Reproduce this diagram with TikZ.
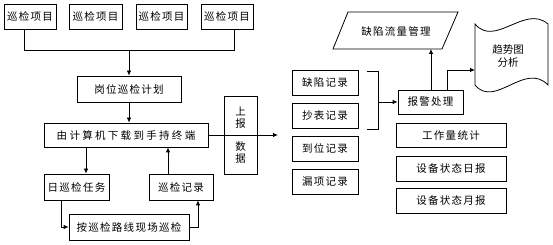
\documentclass[tikz,border=0pt]{standalone}
\usepackage{fontspec}
\newfontfamily\cjk[LetterSpace=12]{Noto Sans CJK SC}
\newfontfamily\cjkw[LetterSpace=22]{Noto Sans CJK SC}
\newfontfamily\cjkn{Noto Sans CJK SC}
\usetikzlibrary{arrows.meta}
\begin{document}
\begin{tikzpicture}[x=1pt,y=-1pt,
  box/.style={draw, line width=0.8pt, inner sep=0pt, font=\cjk\fontsize{10.5}{13}\selectfont},
  txt/.style={inner sep=0pt, align=center, font=\cjkn\fontsize{10.5}{12}\selectfont},
  ln/.style={line width=0.8pt},
  arr/.style={line width=0.8pt, -{Latex[length=5pt,width=4.5pt]}}]
\useasboundingbox (0,0) rectangle (553,245);

% top row
\node[box, minimum width=52pt, minimum height=25pt] (t1) at (30,16.5) {巡检项目};
\node[box, minimum width=53pt, minimum height=25pt] (t2) at (95.5,16.5) {巡检项目};
\node[box, minimum width=51pt, minimum height=25pt] (t3) at (161.5,16.5) {巡检项目};
\node[box, minimum width=52pt, minimum height=25pt] (t4) at (227,16.5) {巡检项目};

\node[box, minimum width=104pt, minimum height=26pt] (plan) at (129,89) {岗位巡检计划};
\node[box, minimum width=164pt, minimum height=24pt, font=\cjkw\fontsize{10.5}{13}\selectfont] (down) at (126,135) {由计算机下载到手持终端};
\node[box, minimum width=65pt, minimum height=26pt] (task) at (76.5,187) {日巡检任务};
\node[box, minimum width=64pt, minimum height=26pt] (rec) at (181,187) {巡检记录};
\node[box, minimum width=120pt, minimum height=26pt] (route) at (129,227) {按巡检路线现场巡检};

\coordinate (j1) at (24,50);
\coordinate (j4) at (234,50);
\coordinate (jm) at (129,50);
\draw[ln] (t1.south -| j1) -- (j1) -- (j4) -- (t4.south -| j4);
\draw[arr] (jm) -- (plan.north);
\draw[arr] (plan.south) -- (plan.south |- down.north);

\coordinate (c1) at (86,0);
\coordinate (c2) at (168,0);
\coordinate (c3) at (61,0);
\coordinate (c4) at (198,0);
\draw[arr] (down.south -| c1) -- (task.north -| c1);
\draw[arr] (rec.north -| c2) -- (down.south -| c2);
\draw[arr] (task.south -| c3) |- (route.west);
\draw[arr] (route.east) -| (rec.south -| c4);

% report box
\coordinate (out) at (278,135);
\node[draw, line width=0.8pt, minimum width=33pt, minimum height=78pt, inner sep=0pt] (rep) at (240.5,135) {};
\node[txt] (rep1) at (240.5,117.5) {上\\报};
\node[txt] (rep2) at (240.5,153) {数\\据};
\draw[arr] (down.east) -- (out);

% records
\node[box, minimum width=66pt, minimum height=25pt] (r1) at (325,82.5) {缺陷记录};
\node[box, minimum width=66pt, minimum height=25pt] (r2) at (325,115.5) {抄表记录};
\node[box, minimum width=66pt, minimum height=25pt] (r3) at (325,148.5) {到位记录};
\node[box, minimum width=66pt, minimum height=25pt] (r4) at (325,181.5) {漏项记录};

\coordinate (bt) at (367,71);
\coordinate (bb) at (367,129);
\coordinate (btr) at (378,71);
\coordinate (bbr) at (378,129);
\coordinate (bk) at (378,102);
\draw[ln] (bt) -- (btr) -- (bbr) -- (bb);

\node[box, minimum width=65pt, minimum height=24pt] (alarm) at (430.5,102) {报警处理};
\draw[arr] (bk) -- (alarm.west);

\node[box, minimum width=110pt, minimum height=24pt] (w1) at (451,135) {工作量统计};
\node[box, minimum width=110pt, minimum height=25pt] (w2) at (451,168.5) {设备状态日报};
\node[box, minimum width=110pt, minimum height=25pt] (w3) at (451,200.5) {设备状态月报};

% parallelogram
\draw[ln] (348,12) -- (458,12) -- (442,49) -- (333,49) -- cycle;
\node[txt, font=\cjk\fontsize{10.5}{13}\selectfont] (flow) at (396,31) {缺陷流量管理};
\coordinate (flowb) at (431,49);
\coordinate (c5) at (431,0);
\draw[arr] (alarm.north -| c5) -- (flowb);

% punched tape
\draw[ln] (475,24) .. controls (495,48) and (525,4) .. (548,24)
  -- (548,85) .. controls (525,61) and (495,109) .. (475,85) -- cycle;
\node[txt, font=\cjkn\fontsize{10.5}{13}\selectfont] (trend) at (508,56.5) {趋势图\\分析};
\coordinate (docw) at (475,70);
\coordinate (c6) at (447,0);
\draw[arr] (alarm.north -| c6) |- (docw);
\end{tikzpicture}
\end{document}
